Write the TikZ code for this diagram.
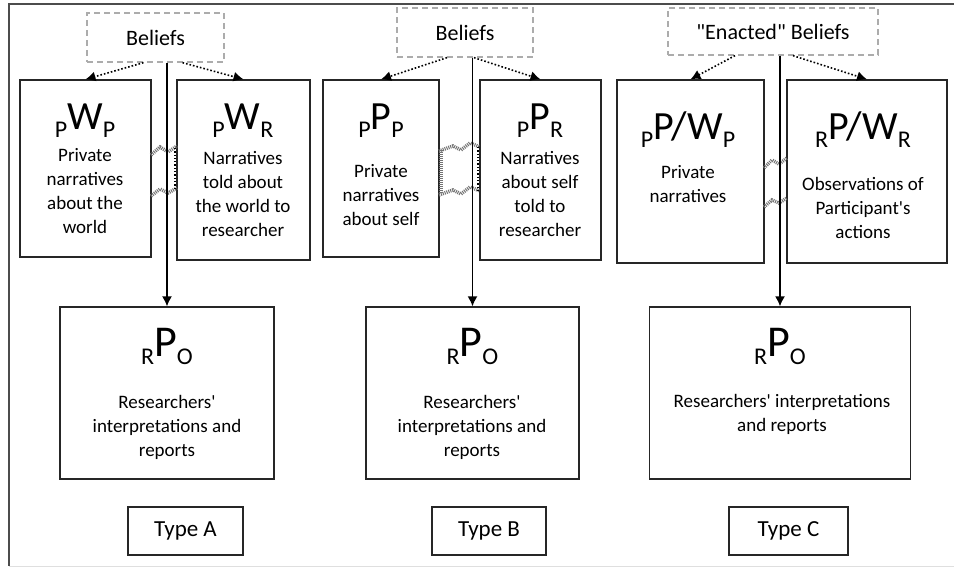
\documentclass[tikz,border=0pt]{standalone}
\usepackage{fontspec}
\setmainfont{Carlito}[Ligatures=TeXOff]
\usepackage{xcolor}
\usepackage{tikz}
\usetikzlibrary{arrows.meta}

\newcommand{\pname}[4]{{\fontsize{24}{24}\selectfont\raisebox{-8pt}{#2}}{\fontsize{#1}{#1}\selectfont #3}{\fontsize{24}{24}\selectfont\raisebox{-8pt}{#4}}}

\begin{document}
\begin{tikzpicture}[x=1pt,y=-1pt,
    panel/.style={draw=black!85,line width=1.3pt,inner sep=0pt},
    belief/.style={draw=gray!65,dashed,dash pattern=on 6pt off 4pt,line width=1.3pt,inner sep=0pt,font=\fontsize{22}{22}\selectfont},
    desc/.style={align=center,inner sep=0pt,font=\fontsize{19}{24}\selectfont},
    tag/.style={panel,font=\fontsize{23}{23}\selectfont,minimum height=48},
    link/.style={dotted,line width=1.6pt,-{Latex[length=10pt,width=10pt]}},
    flow/.style={line width=1.5pt,-{Latex[length=10pt,width=10pt]}},
    hatch/.style={draw=black!55,line width=3.5pt,dash pattern=on 1pt off 1pt}]
    \useasboundingbox (0,0) rectangle (954,567);
    \draw[line width=1.5pt,black!70] (980,4) -- (9,4) -- (9,566);
    \draw[gray!25,line width=1pt] (9,566) -- (980,566);

    \begin{scope}
      % beliefs
      \node[belief,minimum width=137,minimum height=49] (bA) at (155.5,37.5) {Beliefs};
      \node[belief,minimum width=136,minimum height=49] (bB) at (465,32.5) {Beliefs};
      \node[belief,minimum width=210,minimum height=47] (bC) at (773,31.5) {"Enacted" Beliefs};

      % type A
      \node[panel,minimum width=131,minimum height=177] (wP) at (85.5,168.5) {};
      \node[panel,minimum width=133,minimum height=180] (wR) at (243.5,170) {};
      \node (wPt) at (85,121) {\pname{40}{P}{W}{P}};
      \node (wRt) at (243,121) {\pname{40}{P}{W}{R}};
      \node[desc] (wPd) at (85,191) {Private\\narratives\\about the\\world};
      \node[desc] (wRd) at (243,194) {Narratives\\told about\\the world to\\researcher};

      % type B
      \node[panel,minimum width=116,minimum height=177] (pP) at (381,168.5) {};
      \node[panel,minimum width=121,minimum height=180] (pR) at (540.5,170) {};
      \node (pPt) at (381,121) {\pname{40}{P}{P}{P}};
      \node (pRt) at (540,121) {\pname{40}{P}{P}{R}};
      \node[desc] (pPd) at (381,195) {Private\\narratives\\about self};
      \node[desc] (pRd) at (540,194) {Narratives\\about self\\told to\\researcher};

      % type C
      \node[panel,minimum width=147,minimum height=183] (cP) at (690.5,171.5) {};
      \node[panel,minimum width=160,minimum height=183] (cR) at (867,171.5) {};
      \node (cPt) at (688,130) {\pname{40}{P}{P/W}{P}};
      \node (cRt) at (863,130) {\pname{40}{R}{P/W}{R}};
      \node[desc] (cPd) at (688,184) {Private\\narratives};
      \node[desc] (cRd) at (863,208) {Observations of\\Participant's\\actions};

      % researcher
      \node[panel,minimum width=214,minimum height=172] (oA) at (167,393) {};
      \node[panel,minimum width=213,minimum height=172] (oB) at (472.5,393) {};
      \node[panel,minimum width=261,minimum height=172] (oC) at (780,393) {};
      \foreach \o in {oA,oB,oC}{
        \node (\o t) at ([yshift=47pt]\o.center) {\pname{44}{R}{P}{O}};
      }
      \node[desc] (oAd) at (167,427) {Researchers'\\interpretations and\\reports};
      \node[desc] (oBd) at (472,427) {Researchers'\\interpretations and\\reports};
      \node[desc] (oCd) at (782,414) {Researchers' interpretations\\and reports};

      \node[tag,minimum width=115] (tA) at (185.5,531) {Type A};
      \node[tag,minimum width=114] (tB) at (489,531) {Type B};
      \node[tag,minimum width=119] (tC) at (788.5,531) {Type C};

      \draw[hatch] (151,155) -- (160,147) -- (168,152) -- (177,146);
      \draw[hatch] (151,196) -- (160,189) -- (168,193) -- (177,188);
      \draw[dotted,line width=1.3pt] (175,148) -- (175,190);
      \draw[hatch] (439,151) -- (453,146) -- (461,150) -- (470,143) -- (480,147);
      \draw[hatch] (439,195) -- (453,190) -- (461,194) -- (470,187) -- (480,191);
      \draw[hatch] (441,150) -- (441,193);
      \draw[dotted,line width=1.3pt] (478,147) -- (478,191);
      \draw[hatch] (764,168) -- (772,160) -- (779,164) -- (787,158);
      \draw[hatch] (764,207) -- (772,200) -- (779,203) -- (787,198);

      \foreach \b/\l/\r/\sl/\sr in {bA/wP/wR/-12/27,bB/pP/pR/-18/9,bC/cP/cR/-38/20}{
        \draw[link] ([xshift=\sl pt]\b.south) -- (\l.north);
        \draw[link] ([xshift=\sr pt]\b.south) -- (\r.north);
      }
      \foreach \b/\o in {bA/oA,bB/oB,bC/oC}{
        \draw[flow] (\o.north |- \b.south) -- (\o.north);
      }
    \end{scope}
  \end{tikzpicture}
\end{document}
